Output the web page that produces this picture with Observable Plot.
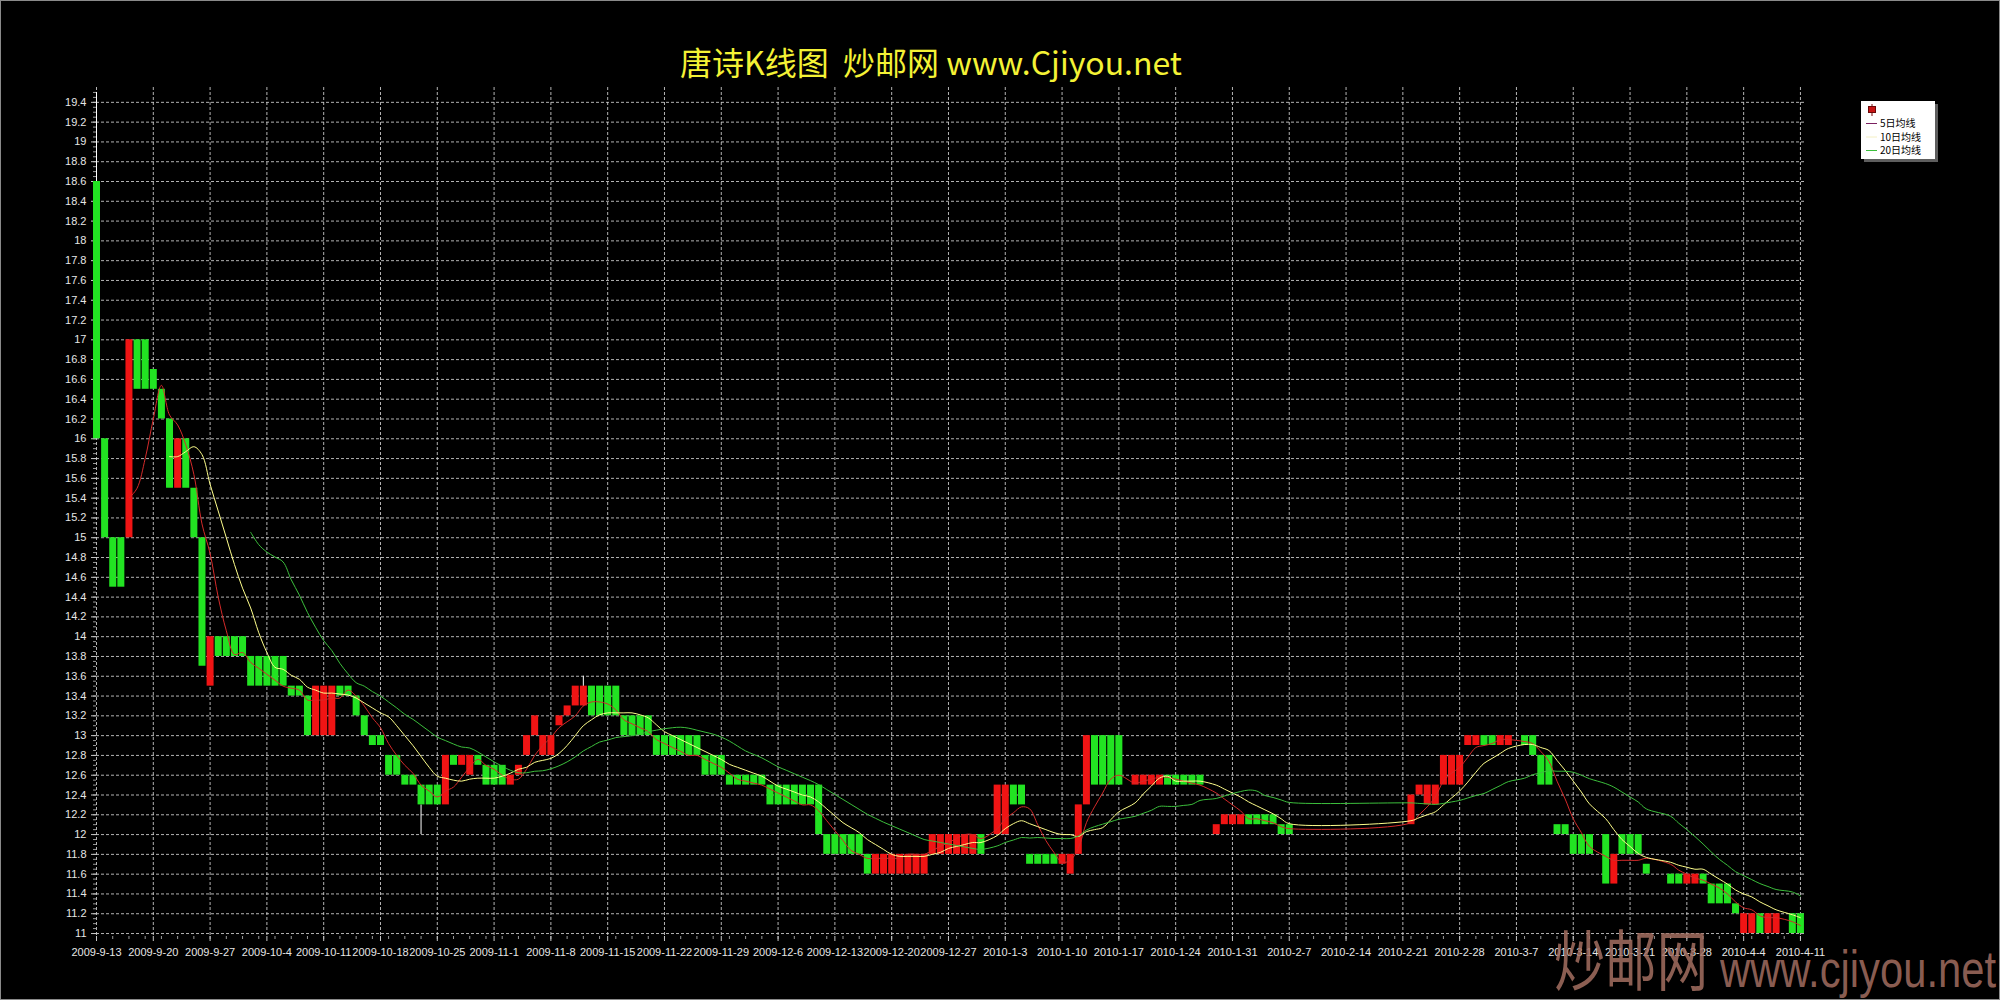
<!DOCTYPE html>
<html>
<head>
<meta charset="utf-8">
<script src="https://cdn.jsdelivr.net/npm/d3@7"></script>
<script src="https://cdn.jsdelivr.net/npm/@observablehq/plot@0.6"></script>
<style>
  html, body { margin: 0; padding: 0; background: #000; }
  #wrap { position: relative; width: 2000px; height: 1000px; background: #000; overflow: hidden; }
  #chart { position: absolute; left: 0; top: 0; }
  #title { position: absolute; left: 0; top: 44px; width: 1862px; text-align: center; white-space: pre;
           font-family: "Noto Sans CJK SC", "Liberation Sans", sans-serif; font-size: 32px; line-height: 34px; color: #f4f235; }
  #frame { position: absolute; left: 0; top: 0; width: 2000px; height: 1000px; box-sizing: border-box; border: 1px solid #8a8a8a; pointer-events: none; }
  #overlay { position: absolute; left: 0; top: 0; pointer-events: none; }
</style>
</head>
<body>
<div id="wrap">
  <div id="chart"></div>
  <div id="title">唐诗K线图  炒邮网 www.Cjiyou.net</div>
  <div id="frame"></div>
</div>
<script>
// ---------------- data ----------------
const dates = [
  // 2009-09
  "2009-9-13","2009-9-14","2009-9-15","2009-9-16","2009-9-17","2009-9-18","2009-9-19","2009-9-20","2009-9-21","2009-9-22",
  "2009-9-23","2009-9-24","2009-9-25","2009-9-26","2009-9-27","2009-9-28","2009-9-29","2009-9-30",
  // 2009-10
  "2009-10-1","2009-10-2","2009-10-3","2009-10-4","2009-10-5","2009-10-6","2009-10-7","2009-10-8","2009-10-9","2009-10-10",
  "2009-10-11","2009-10-12","2009-10-13","2009-10-14","2009-10-15","2009-10-16","2009-10-17","2009-10-18","2009-10-19","2009-10-20",
  "2009-10-21","2009-10-22","2009-10-23","2009-10-24","2009-10-25","2009-10-26","2009-10-27","2009-10-28","2009-10-29","2009-10-30","2009-10-31",
  // 2009-11
  "2009-11-1","2009-11-2","2009-11-3","2009-11-4","2009-11-5","2009-11-6","2009-11-7","2009-11-8","2009-11-9","2009-11-10",
  "2009-11-11","2009-11-12","2009-11-13","2009-11-14","2009-11-15","2009-11-16","2009-11-17","2009-11-18","2009-11-19","2009-11-20",
  "2009-11-21","2009-11-22","2009-11-23","2009-11-24","2009-11-25","2009-11-26","2009-11-27","2009-11-28","2009-11-29","2009-11-30",
  // 2009-12
  "2009-12-1","2009-12-2","2009-12-3","2009-12-4","2009-12-5","2009-12-6","2009-12-7","2009-12-8","2009-12-9","2009-12-10",
  "2009-12-11","2009-12-12","2009-12-13","2009-12-14","2009-12-15","2009-12-16","2009-12-17","2009-12-18","2009-12-19","2009-12-20",
  "2009-12-21","2009-12-22","2009-12-23","2009-12-24","2009-12-25","2009-12-26","2009-12-27","2009-12-28","2009-12-29","2009-12-30","2009-12-31",
  // 2010-01
  "2010-1-2","2010-1-3","2010-1-4","2010-1-5","2010-1-6","2010-1-7","2010-1-8","2010-1-9","2010-1-10","2010-1-11",
  "2010-1-12","2010-1-13","2010-1-14","2010-1-15","2010-1-16","2010-1-17",
  "2010-1-19","2010-1-20","2010-1-21","2010-1-22","2010-1-23","2010-1-24","2010-1-25","2010-1-26","2010-1-27",
  "2010-1-29","2010-1-30","2010-1-31",
  // 2010-02
  "2010-2-1","2010-2-2","2010-2-3","2010-2-4","2010-2-5","2010-2-6","2010-2-7",
  "2010-2-22","2010-2-23","2010-2-24","2010-2-25","2010-2-26","2010-2-27","2010-2-28",
  // 2010-03
  "2010-3-1","2010-3-2","2010-3-3","2010-3-4","2010-3-5","2010-3-6",
  "2010-3-8","2010-3-9","2010-3-10","2010-3-11","2010-3-12","2010-3-13","2010-3-14","2010-3-15","2010-3-16",
  "2010-3-18","2010-3-19","2010-3-20","2010-3-21","2010-3-22","2010-3-23",
  "2010-3-26","2010-3-27","2010-3-28","2010-3-29","2010-3-30","2010-3-31",
  // 2010-04
  "2010-4-1","2010-4-2","2010-4-3","2010-4-4","2010-4-5","2010-4-6","2010-4-7","2010-4-8",
  "2010-4-10","2010-4-11"
];

const opens = [
  // 2009-09
  18.6,16.0,15.0,15.0,15.0,17.0,17.0,16.7,16.5,16.2,
  15.5,16.0,15.5,15.0,13.5,14.0,14.0,14.0,
  // 2009-10
  14.0,13.8,13.8,13.8,13.8,13.8,13.5,13.5,13.4,13.0,
  13.0,13.0,13.5,13.5,13.4,13.2,13.0,13.0,12.8,12.8,
  12.6,12.6,12.5,12.5,12.5,12.3,12.8,12.7,12.6,12.8,12.7,
  // 2009-11
  12.7,12.7,12.5,12.6,12.8,13.0,12.8,12.8,13.1,13.2,
  13.3,13.3,13.5,13.5,13.5,13.5,13.2,13.2,13.2,13.2,
  13.0,13.0,13.0,13.0,13.0,13.0,12.8,12.8,12.8,12.6,
  // 2009-12
  12.6,12.6,12.6,12.6,12.5,12.5,12.5,12.5,12.5,12.5,
  12.5,12.0,12.0,12.0,12.0,12.0,11.8,11.6,11.6,11.6,
  11.6,11.6,11.6,11.6,11.8,11.8,11.8,11.8,11.8,11.8,12.0,
  // 2010-01
  12.0,12.0,12.5,12.5,11.8,11.8,11.8,11.8,11.7,11.6,
  11.8,12.3,13.0,13.0,13.0,13.0,
  12.5,12.5,12.5,12.5,12.6,12.6,12.6,12.6,12.6,
  12.0,12.1,12.1,
  // 2010-02
  12.1,12.2,12.2,12.2,12.2,12.1,12.1,
  12.1,12.4,12.3,12.3,12.5,12.5,12.5,
  // 2010-03
  12.9,12.9,13.0,13.0,12.9,12.9,
  13.0,13.0,12.8,12.8,12.1,12.1,12.0,12.0,12.0,
  12.0,11.5,12.0,12.0,12.0,11.7,
  11.6,11.6,11.5,11.5,11.6,11.5,
  // 2010-04
  11.5,11.5,11.3,11.0,11.0,11.2,11.0,11.0,
  11.2,11.2
];

const closes = [
  // 2009-09
  16.0,15.0,14.5,14.5,17.0,16.5,16.5,16.5,16.2,15.5,
  16.0,15.5,15.0,13.7,14.0,13.8,13.8,13.8,
  // 2009-10
  13.8,13.5,13.5,13.5,13.5,13.5,13.4,13.4,13.0,13.5,
  13.5,13.5,13.4,13.4,13.2,13.0,12.9,12.9,12.6,12.6,
  12.5,12.5,12.3,12.3,12.3,12.8,12.7,12.8,12.8,12.7,12.5,
  // 2009-11
  12.5,12.5,12.6,12.7,13.0,13.2,13.0,13.0,13.2,13.3,
  13.5,13.5,13.2,13.2,13.2,13.2,13.0,13.0,13.0,13.0,
  12.8,12.8,12.8,12.8,12.8,12.8,12.6,12.6,12.6,12.5,
  // 2009-12
  12.5,12.5,12.5,12.5,12.3,12.3,12.3,12.3,12.3,12.3,
  12.0,11.8,11.8,11.8,11.8,11.8,11.6,11.8,11.8,11.8,
  11.8,11.8,11.8,11.8,12.0,12.0,12.0,12.0,12.0,12.0,11.8,
  // 2010-01
  12.5,12.5,12.3,12.3,11.7,11.7,11.7,11.7,11.8,11.8,
  12.3,13.0,12.5,12.5,12.5,12.5,
  12.6,12.6,12.6,12.6,12.5,12.5,12.5,12.5,12.5,
  12.1,12.2,12.2,
  // 2010-02
  12.2,12.1,12.1,12.1,12.1,12.0,12.0,
  12.4,12.5,12.5,12.5,12.8,12.8,12.8,
  // 2010-03
  13.0,13.0,12.9,12.9,13.0,13.0,
  12.9,12.8,12.5,12.5,12.0,12.0,11.8,11.8,11.8,
  11.5,11.8,11.8,11.8,11.8,11.6,
  11.5,11.5,11.6,11.6,11.5,11.3,
  // 2010-04
  11.3,11.3,11.2,11.2,11.2,11.0,11.2,11.2,
  11.0,11.0
];

// days whose shadow (wick) reaches beyond the body
const wickDates = ["2009-9-13", "2009-10-23", "2009-11-12"];
const wickLows  = [16.0, 12.0, 13.3];
const wickHighs = [19.5, 12.3, 13.6];

// axis ticks
const xTickLabels = ["2009-9-13","2009-9-20","2009-9-27","2009-10-4","2009-10-11","2009-10-18","2009-10-25",
  "2009-11-1","2009-11-8","2009-11-15","2009-11-22","2009-11-29","2009-12-6","2009-12-13","2009-12-20","2009-12-27",
  "2010-1-3","2010-1-10","2010-1-17","2010-1-24","2010-1-31","2010-2-7","2010-2-14","2010-2-21","2010-2-28",
  "2010-3-7","2010-3-14","2010-3-21","2010-3-28","2010-4-4","2010-4-11"];
const yTicks = [11,11.2,11.4,11.6,11.8,12,12.2,12.4,12.6,12.8,13,13.2,13.4,13.6,13.8,14,14.2,14.4,14.6,14.8,
  15,15.2,15.4,15.6,15.8,16,16.2,16.4,16.6,16.8,17,17.2,17.4,17.6,17.8,18,18.2,18.4,18.6,18.8,19,19.2,19.4];

const seriesNames = ["5日均线", "10日均线", "20日均线"];
const seriesWindows = [5, 10, 20];
const lineColors = ["#d42a2a", "#ffff8c", "#3cbf3c"];
const legendColors = ["#7a2060", "#f4f0c4", "#3cbf3c"];
const upColor = "#f01414";
const downColor = "#22e322";

// ---------------- build ----------------
const parse = s => { const [y, m, d] = s.split("-").map(Number); return new Date(Date.UTC(y, m - 1, d)); };
const fmt = d => `${d.getUTCFullYear()}-${d.getUTCMonth() + 1}-${d.getUTCDate()}`;

const data = dates.map((s, i) => ({ date: parse(s), open: opens[i], close: closes[i] }));
const wicks = wickDates.map((s, i) => ({ date: parse(s), low: wickLows[i], high: wickHighs[i] }));
const xTicks = xTickLabels.map(parse);
const xStart = xTicks[0], xEnd = xTicks[xTicks.length - 1];
const minorX = d3.utcDay.range(xStart, d3.utcDay.offset(xEnd, 1)).filter((d, i) => i % 2 === 0);
const minorY = d3.range(1100, 1955, 5).map(v => v / 100);

const gridStyle = { stroke: "#d2d2d2", strokeOpacity: 0.85, strokeWidth: 1, strokeDasharray: "3,2" };

const chart = Plot.plot({
  width: 2000,
  height: 1000,
  marginLeft: 96,
  marginRight: 196,
  marginTop: 87,
  marginBottom: 64,
  style: { background: "#000", color: "#e8e8e8", fontFamily: "'Liberation Sans', Arial, sans-serif", fontSize: "11px" },
  x: { type: "utc", domain: [xStart, d3.utcHour.offset(xEnd, 12)] },
  y: { domain: [10.97, 19.55] },
  marks: [
    Plot.gridY(yTicks, gridStyle),
    Plot.gridX(xTicks, gridStyle),
    Plot.axisY(minorY, { tickSize: 3, text: null, stroke: "#9a9a9a", label: null }),
    Plot.axisY(yTicks, { tickSize: 5, tickPadding: 5, tickFormat: d => `${d}`, stroke: "#c8c8c8", fill: "#e6e6e6", fontSize: 11, label: null }),
    Plot.axisX(minorX, { tickSize: 3, text: null, stroke: "#9a9a9a", label: null }),
    Plot.axisX(xTicks, { tickSize: 5, tickPadding: 7, tickFormat: fmt, stroke: "#c8c8c8", fill: "#e6e6e6", fontSize: 11, label: null }),
    // shadows
    Plot.ruleX(wicks, { x: "date", y1: "low", y2: "high", stroke: "#ffffff", strokeWidth: 1 }),
    // candle bodies
    Plot.ruleX(data, { filter: d => d.close < d.open, x: "date", y1: "open", y2: "close", stroke: downColor, strokeWidth: 7 }),
    Plot.ruleX(data, { filter: d => d.close > d.open, x: "date", y1: "open", y2: "close", stroke: upColor, strokeWidth: 7 }),
    // moving averages
    ...seriesWindows.map((k, i) =>
      Plot.lineY(data, Plot.windowY({ k, anchor: "end", strict: true, reduce: "mean" },
        { x: "date", y: "close", stroke: lineColors[i], strokeWidth: 1, curve: "catmull-rom" })))
  ]
});
document.getElementById("chart").appendChild(chart);

// ---------------- legend & watermark overlay ----------------
const ov = d3.select("#wrap").append("svg")
  .attr("id", "overlay").attr("width", 2000).attr("height", 1000);

const lg = ov.append("g");
lg.append("rect").attr("x", 1864).attr("y", 104).attr("width", 74).attr("height", 58).attr("fill", "#5e5e5e");
lg.append("rect").attr("x", 1861).attr("y", 101).attr("width", 74).attr("height", 58).attr("fill", "#ffffff");
lg.append("line").attr("x1", 1872).attr("x2", 1872).attr("y1", 104).attr("y2", 116).attr("stroke", "#7a0a0a");
lg.append("rect").attr("x", 1868.5).attr("y", 106.5).attr("width", 7).attr("height", 6)
  .attr("fill", "#c81414").attr("stroke", "#6a0808");
seriesNames.forEach((name, i) => {
  const y = 123.5 + i * 13.5;
  lg.append("line").attr("x1", 1866).attr("x2", 1877).attr("y1", y).attr("y2", y)
    .attr("stroke", legendColors[i]).attr("stroke-width", 1);
  lg.append("text").attr("x", 1880).attr("y", y).attr("dy", "0.35em")
    .attr("font-family", "'Noto Sans CJK SC', sans-serif").attr("font-size", 10).attr("fill", "#000")
    .text(name);
});

const wm = ov.append("g").attr("fill", "#a36e60").attr("fill-opacity", 0.85);
wm.append("text").attr("x", 1554).attr("y", 985)
  .attr("font-family", "'Noto Sans CJK SC', sans-serif").attr("font-size", 66)
  .attr("textLength", 154).attr("lengthAdjust", "spacingAndGlyphs").text("炒邮网");
wm.append("text").attr("x", 1720).attr("y", 987)
  .attr("font-family", "'Liberation Sans', Arial, sans-serif").attr("font-size", 52)
  .attr("textLength", 276).attr("lengthAdjust", "spacingAndGlyphs").text("www.cjiyou.net");
</script>
</body>
</html>
